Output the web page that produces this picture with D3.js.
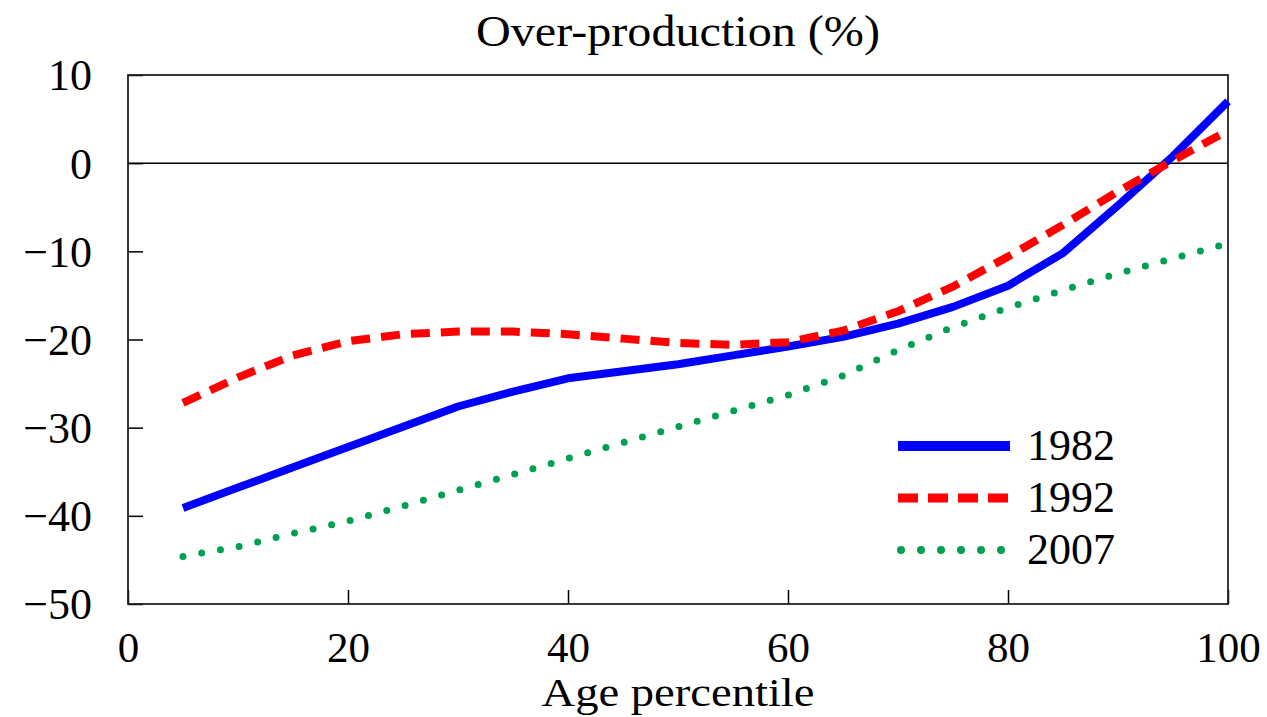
<!DOCTYPE html>
<html>
<head>
<meta charset="utf-8">
<script src="https://cdn.jsdelivr.net/npm/d3@7"></script>
<style>
  body { margin: 0; background: #fff; }
  text { font-family: "Liberation Serif", "DejaVu Serif", serif; fill: #000; }
</style>
</head>
<body>
<svg id="chart" width="1267" height="717"></svg>
<script>
var W = 1267, H = 717;
var margin = {left: 128, right: 39, top: 75, bottom: 113};

// age percentiles
var pct = [5, 10, 15, 20, 25, 30, 35, 40, 45, 50, 55, 60, 65, 70, 75, 80, 85, 90, 95, 100];
// over-production (%) by year
var y1982 = [-39.1, -36.8, -34.5, -32.2, -29.9, -27.6, -25.9, -24.4, -23.6, -22.8,
             -21.8, -20.8, -19.7, -18.2, -16.3, -13.9, -10.2, -4.8, 0.8, 7.0];
var y1992 = [-27.2, -24.3, -21.8, -20.2, -19.4, -19.1, -19.1, -19.4, -19.9, -20.4,
             -20.6, -20.3, -19.0, -16.8, -14.0, -10.6, -7.0, -3.2, 0.3, 3.7];
var y2007 = [-44.6, -43.5, -42.0, -40.6, -38.9, -37.1, -35.3, -33.5, -31.7, -29.9,
             -28.1, -26.3, -24.1, -21.2, -18.6, -16.4, -14.4, -12.5, -10.8, -9.1];
var years = ['1982', '1992', '2007'];
var xTicks = [0, 20, 40, 60, 80, 100];
var yTicks = [10, 0, -10, -20, -30, -40, -50];

var series = [
  {name: years[0], values: y1982, color: '#0000ff', width: 8, dash: null, cap: 'butt'},
  {name: years[1], values: y1992, color: '#ff0000', width: 8, dash: '19 11', cap: 'butt'},
  {name: years[2], values: y2007, color: '#00a050', width: 7, dash: '0 19', cap: 'round'}
];

var svg = d3.select('#chart');
var pw = W - margin.left - margin.right, ph = H - margin.top - margin.bottom;

var x = d3.scaleLinear().domain([0, 100]).range([margin.left, margin.left + pw]);
var y = d3.scaleLinear().domain([-50, 10]).range([margin.top + ph, margin.top]);

// title
svg.append('text')
  .attr('x', x(50)).attr('y', 46)
  .attr('text-anchor', 'middle')
  .attr('font-size', 44)
  .attr('textLength', 404).attr('lengthAdjust', 'spacingAndGlyphs')
  .text('Over-production (%)');

// zero line
svg.append('line')
  .attr('x1', x(0)).attr('x2', x(100))
  .attr('y1', y(0)).attr('y2', y(0))
  .attr('stroke', '#000').attr('stroke-width', 1.5);

// axes, ticks pointing inward
var yAxis = svg.append('g')
  .attr('transform', 'translate(' + margin.left + ',0)')
  .call(d3.axisLeft(y).tickValues(yTicks).tickSizeInner(-15).tickSizeOuter(0).tickPadding(36));
var xAxis = svg.append('g')
  .attr('transform', 'translate(0,' + (margin.top + ph) + ')')
  .call(d3.axisBottom(x).tickValues(xTicks).tickSizeInner(-14).tickSizeOuter(0).tickPadding(27));

[yAxis, xAxis].forEach(function (a) {
  a.select('.domain').remove();
  a.selectAll('.tick line').attr('stroke', '#000').attr('stroke-width', 1.5);
  a.selectAll('.tick text')
    .attr('font-family', '"Liberation Serif", serif')
    .attr('font-size', 44);
});
yAxis.selectAll('.tick text').attr('dy', '0.34em');
xAxis.selectAll('.tick text').attr('font-size', 43).attr('dy', '0.71em');

// frame
svg.append('rect')
  .attr('x', margin.left).attr('y', margin.top)
  .attr('width', pw).attr('height', ph)
  .attr('fill', 'none').attr('stroke', '#222').attr('stroke-width', 1.8);

// x label
svg.append('text')
  .attr('x', x(50)).attr('y', 706)
  .attr('text-anchor', 'middle')
  .attr('font-size', 41)
  .attr('textLength', 273).attr('lengthAdjust', 'spacingAndGlyphs')
  .text('Age percentile');

// lines
var line = d3.line()
  .x(function (d, i) { return x(pct[i]); })
  .y(function (d) { return y(d); });

series.forEach(function (s) {
  svg.append('path')
    .attr('d', line(s.values))
    .attr('fill', 'none')
    .attr('stroke', s.color)
    .attr('stroke-width', s.width)
    .attr('stroke-linecap', s.cap)
    .attr('stroke-linejoin', 'round')
    .attr('stroke-dasharray', s.dash);
});

// legend
var leg = svg.append('g').attr('transform', 'translate(898,446)');
series.forEach(function (s, i) {
  var g = leg.append('g').attr('transform', 'translate(0,' + (i * 52) + ')');
  g.append('line')
    .attr('x1', s.cap == 'round' ? 3 : 0).attr('x2', 112)
    .attr('stroke', s.color)
    .attr('stroke-width', s.name == '1982' ? 10 : s.width + 1)
    .attr('stroke-linecap', s.cap)
    .attr('stroke-dasharray', s.name == '1992' ? '20 10' : (s.dash ? '0 20' : null));
  g.append('text')
    .attr('x', 129).attr('y', 14)
    .attr('font-size', 44)
    .text(s.name);
});
</script>
</body>
</html>
